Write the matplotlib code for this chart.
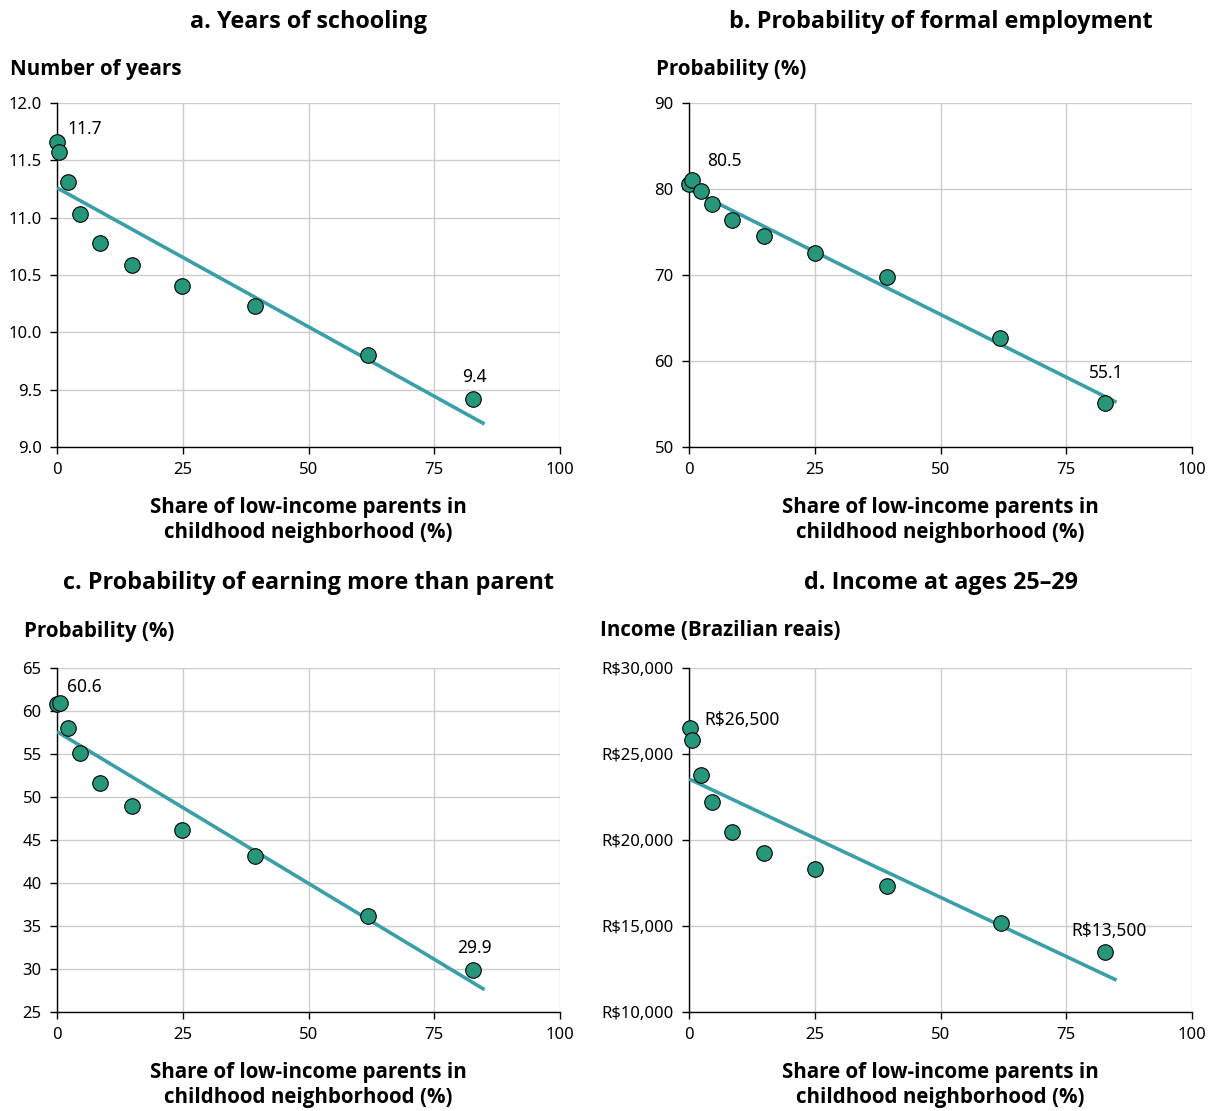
import matplotlib
matplotlib.use("Agg")
import matplotlib.pyplot as plt
from matplotlib.ticker import FuncFormatter

plt.rcParams['font.family'] = ['Noto Sans', 'DejaVu Sans']
BOLD_FAMILY = ['Open Sans', 'Noto Sans', 'DejaVu Sans']

# ---- data ----
share_low_income = [0, 0.4, 2.2, 4.5, 8.5, 14.9, 24.9, 39.3, 61.9, 82.8]

schooling = [11.66, 11.57, 11.31, 11.03, 10.78, 10.59, 10.40, 10.23, 9.80, 9.42]
schooling_trend = [11.26, 9.20]

formal_x = [0, 0.6, 2.3, 4.5, 8.5, 14.9, 25.0, 39.3, 61.9, 82.8]
formal = [80.6, 81.0, 79.8, 78.3, 76.4, 74.5, 72.6, 69.8, 62.7, 55.1]
formal_trend = [80.0, 55.2]

earn_x = [0, 0.6, 2.2, 4.5, 8.5, 14.9, 24.9, 39.3, 61.9, 82.8]
earn_more = [60.8, 60.9, 58.0, 55.1, 51.6, 49.0, 46.2, 43.1, 36.2, 29.9]
earn_trend = [57.6, 27.6]

income_x = [0.1, 0.5, 2.3, 4.5, 8.5, 14.9, 25.0, 39.3, 62.0, 82.8]
income = [26500, 25800, 23800, 22200, 20450, 19250, 18300, 17300, 15200, 13500]
income_trend = [23550, 11850]

trend_x = [0, 85]

titles = ["a. Years of schooling", "b. Probability of formal employment",
          "c. Probability of earning more than parent", "d. Income at ages 25\u201329"]
ylabels = ["Number of years", "Probability (%)", "Probability (%)", "Income (Brazilian reais)"]
xlabel = "Share of low-income parents in\nchildhood neighborhood (%)"
xticks = [0, 25, 50, 75, 100]

# ---- styling ----
W, H = 1210, 1111
fig = plt.figure(figsize=(W / 100, H / 100), dpi=100)
POINT = "#27977c"
LINE = "#3a9fa8"
GRID = "#cccccc"

def axes_px(l, t, r, b):
    return fig.add_axes([l / W, 1 - b / H, (r - l) / W, (b - t) / H])

panels = [
    dict(rect=(57, 103, 560, 447), x=share_low_income, y=schooling, trend=schooling_trend,
         ylim=(9.0, 12.0), yticks=[9.0, 9.5, 10.0, 10.5, 11.0, 11.5, 12.0],
         fmt=lambda v, p: f"{v:.1f}",
         ann=[("11.7", 0, (10, 13), 'left'), ("9.4", 9, (1, 22), 'center')],
         ylab_x=10, title_y=22, ylab_y=70),
    dict(rect=(689, 103, 1192, 447), x=formal_x, y=formal, trend=formal_trend,
         ylim=(50, 90), yticks=[50, 60, 70, 80, 90],
         fmt=lambda v, p: f"{v:.0f}",
         ann=[("80.5", 1, (15, 19), 'left'), ("55.1", 9, (1, 30), 'center')],
         ylab_x=656, title_y=22, ylab_y=70),
    dict(rect=(57, 668, 560, 1012), x=earn_x, y=earn_more, trend=earn_trend,
         ylim=(25, 65), yticks=[25, 30, 35, 40, 45, 50, 55, 60, 65],
         fmt=lambda v, p: f"{v:.0f}",
         ann=[("60.6", 1, (7, 16), 'left'), ("29.9", 9, (1, 22), 'center')],
         ylab_x=24, title_y=583, ylab_y=631),
    dict(rect=(689, 668, 1192, 1012), x=income_x, y=income, trend=income_trend,
         ylim=(10000, 30000), yticks=[10000, 15000, 20000, 25000, 30000],
         fmt=lambda v, p: f"R${v:,.0f}",
         ann=[("R$26,500", 0, (15, 8), 'left'), ("R$13,500", 9, (4, 21), 'center')],
         ylab_x=600, title_y=583, ylab_y=631),
]

for i, P in enumerate(panels):
    l, t, r, b = P["rect"]
    ax = axes_px(l, t, r, b)
    ax.set_xlim(0, 100)
    ax.set_ylim(*P["ylim"])
    ax.set_xticks(xticks)
    ax.set_yticks(P["yticks"])
    ax.yaxis.set_major_formatter(FuncFormatter(P["fmt"]))
    ax.grid(True, color=GRID, linewidth=1.0, zorder=0)
    ax.set_axisbelow(True)
    for s in ("top", "right"):
        ax.spines[s].set_visible(False)
    for s in ("left", "bottom"):
        ax.spines[s].set_color("black")
        ax.spines[s].set_linewidth(1.0)
        ax.spines[s].set_zorder(1)
    ax.tick_params(axis="both", direction="out", length=5, width=1.0,
                   labelsize=12, colors="black", pad=6)
    ax.plot(trend_x, P["trend"], color=LINE, linewidth=2.6, zorder=2,
            solid_capstyle="butt")
    ax.scatter(P["x"], P["y"], s=125, color=POINT, edgecolor="black",
               linewidth=0.8, zorder=3, clip_on=False)
    for txt, idx, off, ha in P["ann"]:
        ax.annotate(txt, (P["x"][idx], P["y"][idx]), xytext=off,
                    textcoords="offset pixels", ha=ha, va="center",
                    fontsize=12.5, color="black", zorder=4)
    cx = (l + r) / 2
    fig.text(cx / W, 1 - P["title_y"] / H, titles[i], ha="center", va="center",
             fontsize=16.8, fontweight="bold", family=BOLD_FAMILY)
    fig.text(P["ylab_x"] / W, 1 - P["ylab_y"] / H, ylabels[i], ha="left", va="center",
             fontsize=14.8, fontweight="bold", family=BOLD_FAMILY)
    fig.text(cx / W, 1 - (b + 73) / H, xlabel, ha="center", va="center",
             fontsize=14.8, fontweight="bold", linespacing=1.2, family=BOLD_FAMILY)

fig.savefig("out.png", dpi=100)
